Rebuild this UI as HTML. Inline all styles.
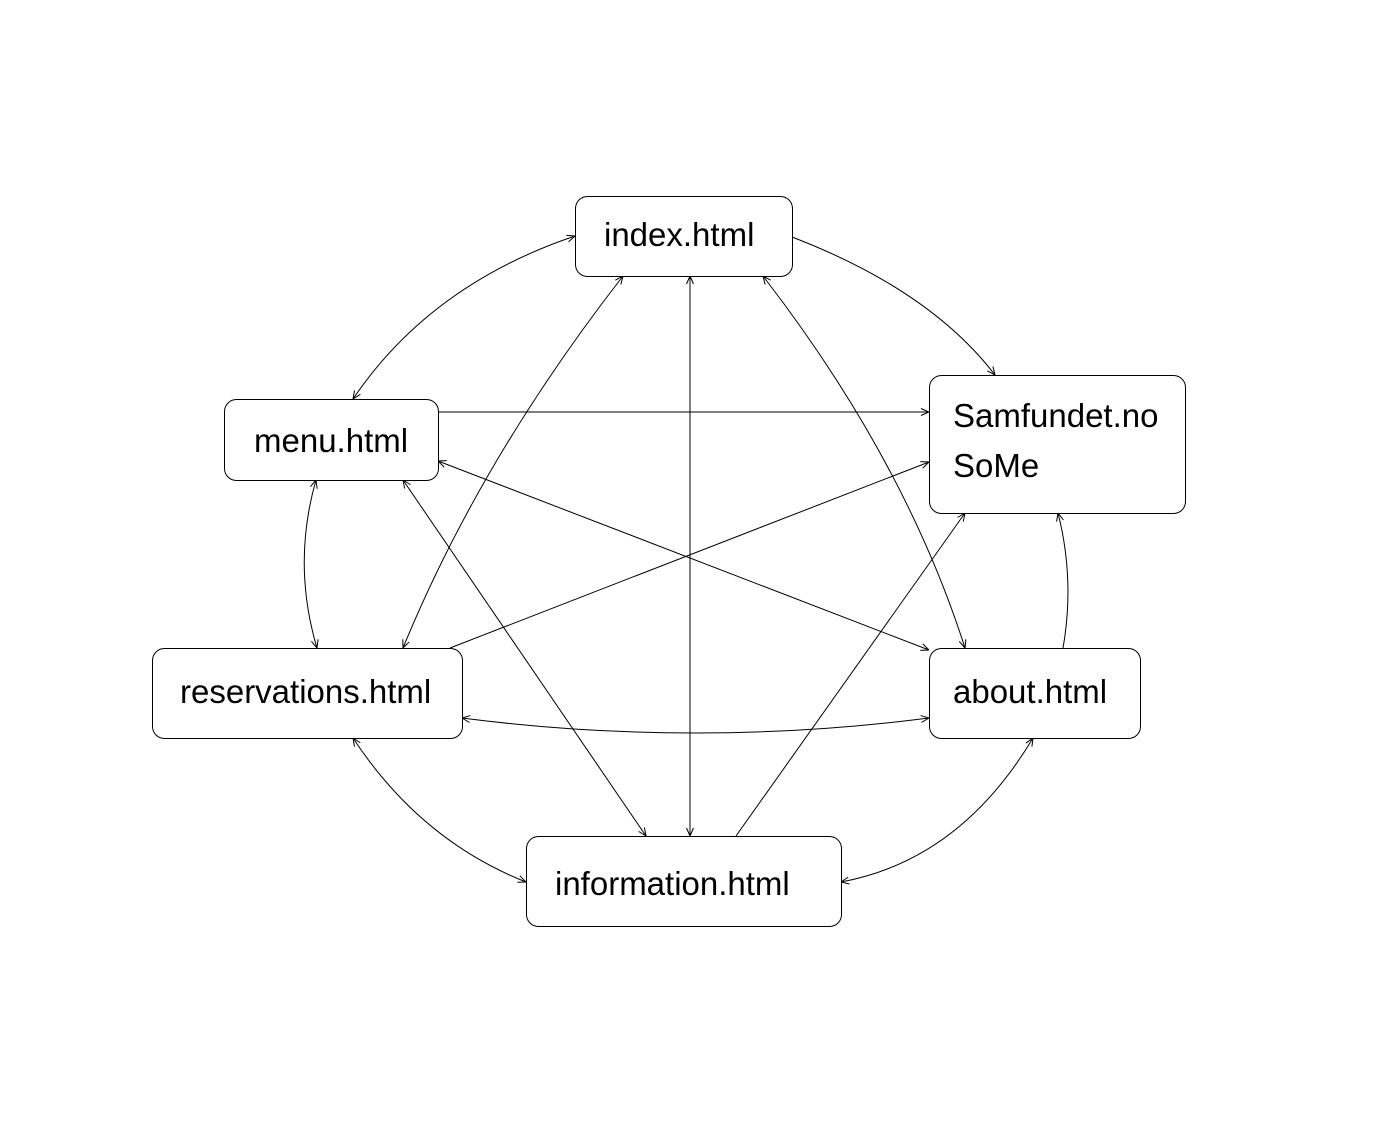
<!DOCTYPE html>
<html>
<head>
<meta charset="utf-8">
<style>
  html,body{margin:0;padding:0;background:#fff;}
  svg{display:block;}
  text{font-family:"Liberation Sans",sans-serif;font-size:33px;fill:#000;}
</style>
</head>
<body>
<svg id="diagram" width="1374" height="1136" viewBox="0 0 1374 1136" xmlns="http://www.w3.org/2000/svg">
  <defs>
    <marker id="arr" viewBox="0 0 10 10" refX="10" refY="5" markerWidth="10" markerHeight="10" markerUnits="userSpaceOnUse" orient="auto-start-reverse">
      <path d="M2,1.5 L10,5 L2,8.5" fill="none" stroke="#000" stroke-width="1"/>
    </marker>
  </defs>
  <g id="edges"></g>
  <g id="nodes"></g>
</svg>
<script>
const nodeNames = ["index","menu","samfundet","reservations","about","information"];
const nodeLabels = [["index.html"],["menu.html"],["Samfundet.no","SoMe"],["reservations.html"],["about.html"],["information.html"]];
const nodeBoxes = [[575,196,217,80],[224,399,214,81],[929,375,256,138],[152,648,310,90],[929,648,211,90],[526,836,315,90]];
const textPos = [[604,246],[254,452],[953,427],[180,703],[953,703],[555,895]];
// edges: x1,y1,x2,y2, control (null = straight), startArrow, endArrow
const edges = [
  [792,237,995,375,[930,290],false,true],
  [575,236,353,399,[430,285],true,true],
  [623,276,403,648,[480,460],true,true],
  [690,276,690,836,null,true,true],
  [763,276,965,648,[905,460],true,true],
  [438,412,929,412,null,false,true],
  [438,461,929,650,null,true,true],
  [403,480,646,836,null,true,true],
  [316,480,317,648,[292,564],true,true],
  [450,648,929,462,null,false,true],
  [462,718,929,718,[695,748],true,true],
  [353,738,526,882,[420,840],true,true],
  [736,836,965,513,null,false,true],
  [1063,648,1058,513,[1075,580],false,true],
  [1033,738,841,882,[960,860],true,true]
];
const NS="http://www.w3.org/2000/svg";
const eg=document.getElementById('edges');
edges.forEach((e,i)=>{
  const p=document.createElementNS(NS,'path');
  const d = e[4] ? `M${e[0]},${e[1]} Q${e[4][0]},${e[4][1]} ${e[2]},${e[3]}` : `M${e[0]},${e[1]} L${e[2]},${e[3]}`;
  p.setAttribute('d',d);
  p.setAttribute('fill','none');
  p.setAttribute('stroke','#000');
  p.setAttribute('stroke-width','1');
  if(e[5]) p.setAttribute('marker-start','url(#arr)');
  if(e[6]) p.setAttribute('marker-end','url(#arr)');
  
  
  eg.appendChild(p);
});
const ng=document.getElementById('nodes');
nodeNames.forEach((n,i)=>{
  const g=document.createElementNS(NS,'g');
  
  
  const r=document.createElementNS(NS,'rect');
  const b=nodeBoxes[i];
  r.setAttribute('x',b[0]+0.5);r.setAttribute('y',b[1]+0.5);
  r.setAttribute('width',b[2]);r.setAttribute('height',b[3]);
  r.setAttribute('rx',12);r.setAttribute('fill','#fff');
  r.setAttribute('stroke','#000');r.setAttribute('stroke-width','1');
  
  
  g.appendChild(r);
  nodeLabels[i].forEach((l,j)=>{
    const t=document.createElementNS(NS,'text');
    t.setAttribute('x',textPos[i][0]);
    t.setAttribute('y',textPos[i][1]+j*50);
    t.textContent=l;
    
    
    g.appendChild(t);
  });
  ng.appendChild(g);
});
</script>
</body>
</html>
